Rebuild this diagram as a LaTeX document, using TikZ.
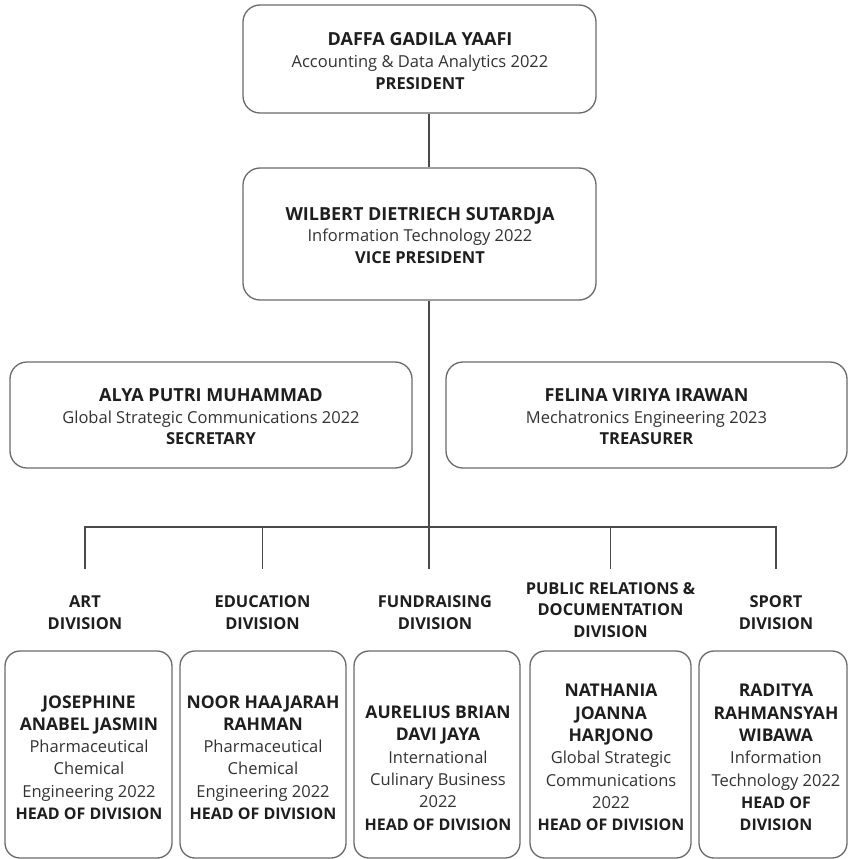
\documentclass[tikz,border=0pt]{standalone}
\usepackage{fontspec}
\setmainfont{Open Sans}
\definecolor{boxline}{HTML}{6A6A6A}
\definecolor{conn}{HTML}{4A4A4A}
\definecolor{ink}{HTML}{1E1E1E}
\definecolor{subink}{HTML}{333333}
\tikzset{
  topbox/.style={draw=boxline, line width=1.3pt, rounded corners=17pt, fill=white},
  divbox/.style={draw=boxline, line width=1.3pt, rounded corners=15pt, fill=white},
  toptext/.style={align=center, text=ink, font=\fontsize{16.5}{21.6}\selectfont, inner sep=0pt},
  divtext/.style={align=center, text=ink, font=\fontsize{16.5}{22.3}\selectfont, inner sep=0pt},
  divlabel/.style={align=center, text=ink, font=\fontsize{16.4}{21.5}\selectfont\bfseries, inner sep=0pt},
  connector/.style={draw=conn, line width=1.2pt}
}
\newcommand{\sub}[1]{{\color{subink}#1}}
\newcommand{\tnm}[1]{{\fontsize{18}{21.6}\selectfont\bfseries #1}}
\newcommand{\trl}[1]{{\fontsize{16.5}{21.6}\selectfont\bfseries #1}}
\newcommand{\dnm}[1]{{\fontsize{17.5}{22.3}\selectfont\bfseries #1}}
\newcommand{\drl}[1]{{\fontsize{16}{22.3}\selectfont\bfseries #1}}
\begin{document}
\begin{tikzpicture}[x=1pt,y=-1pt]
\useasboundingbox[fill=white] (0,0) rectangle (848,859);

% spine coordinates
\coordinate (spine) at (429,0);
\coordinate (hbar) at (0,527);
\coordinate (drop) at (0,569);

% top boxes
\node[topbox, minimum width=353pt, minimum height=108pt] (pres) at (419.5,59) {};
\node[toptext] (prestxt) at (420,61) {\tnm{DAFFA GADILA YAAFI}\\\sub{Accounting \& Data Analytics 2022}\\\trl{PRESIDENT}};

\node[topbox, minimum width=353pt, minimum height=132pt] (vp) at (419.5,234) {};
\node[toptext] (vptxt) at (420,235.5) {\tnm{WILBERT DIETRIECH SUTARDJA}\\\sub{Information Technology 2022}\\\trl{VICE PRESIDENT}};

\node[topbox, minimum width=402pt, minimum height=106pt] (sec) at (211,415) {};
\node[toptext] (sectxt) at (211,417) {\tnm{ALYA PUTRI MUHAMMAD}\\\sub{Global Strategic Communications 2022}\\\trl{SECRETARY}};

\node[topbox, minimum width=401pt, minimum height=106pt] (tre) at (646.5,415) {};
\node[toptext] (tretxt) at (646.5,417) {\tnm{FELINA VIRIYA IRAWAN}\\\sub{Mechatronics Engineering 2023}\\\trl{TREASURER}};

% division labels
\node[divlabel] (artlab) at (85,612.5) {ART\\DIVISION};
\node[divlabel] (edulab) at (262.5,612.5) {EDUCATION\\DIVISION};
\node[divlabel] (fundlab) at (435,612.5) {FUNDRAISING\\DIVISION};
\node[divlabel] (prlab) at (610.5,610) {PUBLIC RELATIONS \&\\DOCUMENTATION\\DIVISION};
\node[divlabel] (sportlab) at (776,612.5) {SPORT\\DIVISION};

% division boxes
\node[divbox, minimum width=167pt, minimum height=207pt] (artbox) at (88.5,754.5) {};
\node[divtext] (arttxt) at (89,757.5) {\dnm{JOSEPHINE}\\\dnm{ANABEL JASMIN}\\\sub{Pharmaceutical}\\\sub{Chemical}\\\sub{Engineering 2022}\\\drl{HEAD OF DIVISION}};

\node[divbox, minimum width=166pt, minimum height=207pt] (edubox) at (263,754.5) {};
\node[divtext] (edutxt) at (263,757.5) {\dnm{NOOR HAAJARAH}\\\dnm{RAHMAN}\\\sub{Pharmaceutical}\\\sub{Chemical}\\\sub{Engineering 2022}\\\drl{HEAD OF DIVISION}};

\node[divbox, minimum width=166pt, minimum height=207pt] (fundbox) at (437,754.5) {};
\node[divtext] (fundtxt) at (438,768) {\dnm{AURELIUS BRIAN}\\\dnm{DAVI JAYA}\\\sub{International}\\\sub{Culinary Business}\\\sub{2022}\\\drl{HEAD OF DIVISION}};

\node[divbox, minimum width=161pt, minimum height=207pt] (prbox) at (610.5,754.5) {};
\node[divtext] (prtxt) at (611,757.5) {\dnm{NATHANIA}\\\dnm{JOANNA}\\\dnm{HARJONO}\\\sub{Global Strategic}\\\sub{Communications}\\\sub{2022}\\\drl{HEAD OF DIVISION}};

\node[divbox, minimum width=148pt, minimum height=207pt] (sportbox) at (773,754.5) {};
\node[divtext] (sporttxt) at (776,757.5) {\dnm{RADITYA}\\\dnm{RAHMANSYAH}\\\dnm{WIBAWA}\\\sub{Information}\\\sub{Technology 2022}\\\drl{HEAD OF}\\\drl{DIVISION}};

% connectors
\draw[connector] (pres.south -| spine) -- (vp.north -| spine);
\draw[connector] (vp.south -| spine) -- (spine |- drop);
\draw[connector] (artlab.north |- drop) -- (artlab.north |- hbar) -- (sportlab.north |- hbar) -- (sportlab.north |- drop);
\draw[connector] (edulab.north |- hbar) -- (edulab.north |- drop);
\draw[connector] (prlab.north |- hbar) -- (prlab.north |- drop);
\end{tikzpicture}
\end{document}
